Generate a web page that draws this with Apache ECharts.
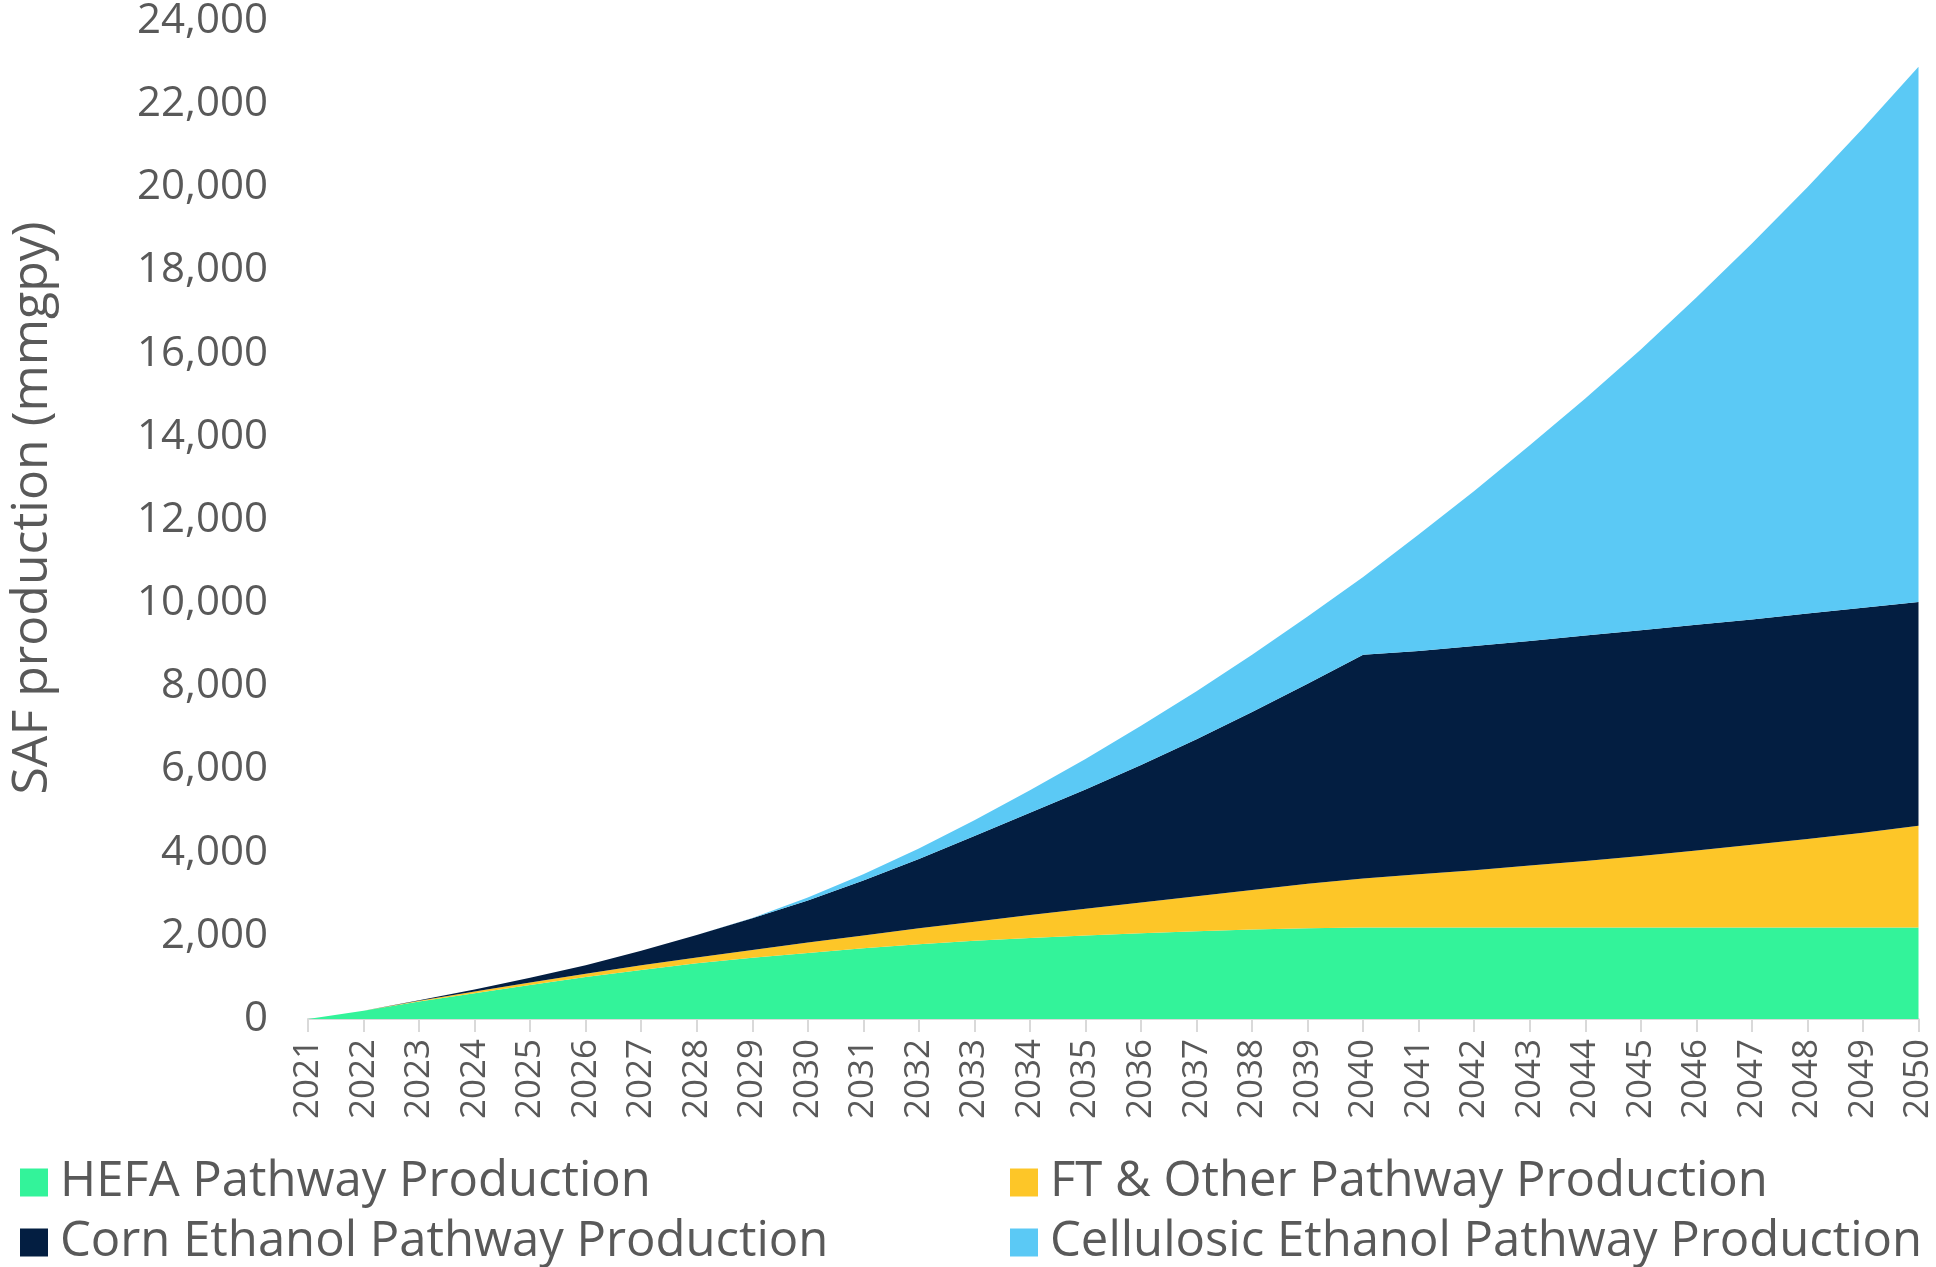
<!DOCTYPE html>
<html>
<head>
<meta charset="utf-8">
<script src="https://cdn.jsdelivr.net/npm/echarts@6/dist/echarts.min.js"></script>
<style>
html,body{margin:0;padding:0;background:#fff;}
#chart{width:1936px;height:1267px;}
</style>
</head>
<body>
<div id="chart"></div>
<script>
const years = ['2021','2022','2023','2024','2025','2026','2027','2028','2029','2030','2031','2032','2033','2034','2035','2036','2037','2038','2039','2040','2041','2042','2043','2044','2045','2046','2047','2048','2049','2050'];
const hefa = [0,200,420,620,820,1010,1180,1340,1470,1590,1700,1800,1880,1950,2010,2060,2110,2150,2180,2200,2200,2200,2200,2200,2200,2200,2200,2200,2200,2200];
const ftOther = [0,0,20,40,60,80,110,140,190,250,310,380,460,550,640,740,840,950,1070,1180,1280,1380,1490,1600,1720,1850,1990,2130,2280,2450];
const cornEthanol = [0,0,10,50,110,200,350,540,760,1010,1320,1670,2060,2460,2870,3310,3780,4280,4810,5380,5370,5390,5400,5420,5430,5430,5420,5420,5410,5380];
const cellulosic = [0,0,0,0,0,0,0,0,10,70,150,250,380,540,730,940,1150,1380,1620,1870,2800,3730,4710,5700,6750,7870,9040,10250,11530,12870];

const names = ['HEFA Pathway Production','FT & Other Pathway Production','Corn Ethanol Pathway Production','Cellulosic Ethanol Pathway Production'];
const colors = ['#33F39A','#FDC628','#031E41','#5BC9F5'];
const dataSets = [hefa, ftOther, cornEthanol, cellulosic];

const FONT = '"Open Sans", sans-serif';
const TXT = '#595959';

const chart = echarts.init(document.getElementById('chart'), null, {renderer:'canvas'});
const legendPos = [
  {left: 20, top: 1158, name: names[0]},
  {left: 20, top: 1218, name: names[2]},
  {left: 1010, top: 1158, name: names[1]},
  {left: 1010, top: 1218, name: names[3]}
];
chart.setOption({
  animation: false,
  backgroundColor: '#fff',
  color: colors,
  grid: {left: 304, right: 10, top: 18, bottom: 248, containLabel: false},
  legend: legendPos.map(p => ({
    left: p.left, top: p.top, data: [p.name], icon: 'rect',
    itemWidth: 28, itemHeight: 28, itemGap: 0, padding: 0,
    textStyle: {fontFamily: FONT, fontSize: 49, color: TXT, padding: [0,0,0,7]}
  })),
  xAxis: {
    type: 'category', data: years, boundaryGap: false,
    axisLine: {lineStyle: {color: '#d9d9d9', width: 2}},
    axisTick: {show: true, length: 13, lineStyle: {color: '#d9d9d9', width: 2}},
    axisLabel: {rotate: 90, interval: 0, margin: 20, color: TXT, fontFamily: FONT, fontSize: 35}
  },
  yAxis: {
    type: 'value', min: 0, max: 24000, interval: 2000,
    name: 'SAF production (mmgpy)', nameLocation: 'middle', nameGap: 250,
    nameTextStyle: {fontFamily: FONT, fontSize: 50, color: TXT, padding: [0,0,0,24]},
    axisLine: {show: false}, axisTick: {show: false}, splitLine: {show: false},
    axisLabel: {margin: 40, color: TXT, fontFamily: FONT, fontSize: 42,
      formatter: v => v.toLocaleString('en-US')}
  },
  series: dataSets.map((d, i) => ({
    name: names[i], type: 'line', stack: 'total', data: d,
    showSymbol: false, symbol: 'none',
    lineStyle: {width: 0}, areaStyle: {color: colors[i], opacity: 1},
    itemStyle: {color: colors[i]}
  }))
});
</script>
</body>
</html>
